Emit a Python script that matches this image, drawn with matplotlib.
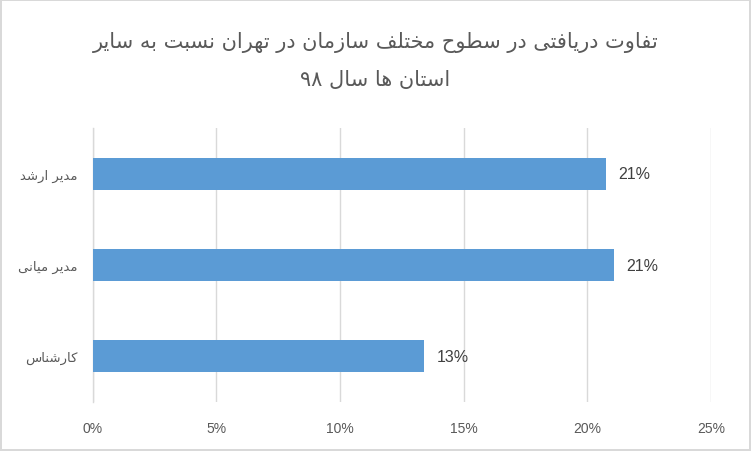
import re
import matplotlib
matplotlib.use('Agg')
import matplotlib.pyplot as plt
from matplotlib.ticker import FuncFormatter

# data
categories = ['مدیر ارشد', 'مدیر میانی', 'کارشناس']
values = [20.76, 21.09, 13.4]
value_labels = ['21%', '21%', '13%']
title_lines = ['تفاوت دریافتی در سطوح مختلف سازمان در تهران نسبت به سایر',
               'استان ها سال ۹۸']
xticks = [0, 5, 10, 15, 20, 25]

# presentation forms: (isolated, final[, initial, medial])
FORMS = {
    'ا': ('\uFE8D', '\uFE8E'),
    'د': ('\uFEA9', '\uFEAA'),
    'ر': ('\uFEAD', '\uFEAE'),
    'ز': ('\uFEAF', '\uFEB0'),
    'و': ('\uFEED', '\uFEEE'),
    'ب': ('\uFE8F', '\uFE90', '\uFE91', '\uFE92'),
    'ت': ('\uFE95', '\uFE96', '\uFE97', '\uFE98'),
    'ح': ('\uFEA1', '\uFEA2', '\uFEA3', '\uFEA4'),
    'خ': ('\uFEA5', '\uFEA6', '\uFEA7', '\uFEA8'),
    'س': ('\uFEB1', '\uFEB2', '\uFEB3', '\uFEB4'),
    'ش': ('\uFEB5', '\uFEB6', '\uFEB7', '\uFEB8'),
    'ط': ('\uFEC1', '\uFEC2', '\uFEC3', '\uFEC4'),
    'ف': ('\uFED1', '\uFED2', '\uFED3', '\uFED4'),
    'ل': ('\uFEDD', '\uFEDE', '\uFEDF', '\uFEE0'),
    'م': ('\uFEE1', '\uFEE2', '\uFEE3', '\uFEE4'),
    'ن': ('\uFEE5', '\uFEE6', '\uFEE7', '\uFEE8'),
    'ه': ('\uFEE9', '\uFEEA', '\uFEEB', '\uFEEC'),
    'ی': ('\uFBFC', '\uFBFD', '\uFBFE', '\uFBFF'),
    'ک': ('\uFB8E', '\uFB8F', '\uFB90', '\uFB91'),
}


def shape(word):
    out = []
    for i, ch in enumerate(word):
        if ch not in FORMS:
            out.append(ch)
            continue
        prev = word[i - 1] if i > 0 else ''
        nxt = word[i + 1] if i + 1 < len(word) else ''
        joins_prev = prev in FORMS and len(FORMS[prev]) == 4
        joins_next = len(FORMS[ch]) == 4 and nxt in FORMS
        f = FORMS[ch]
        if joins_prev and joins_next:
            out.append(f[3])
        elif joins_prev:
            out.append(f[1])
        elif joins_next:
            out.append(f[2])
        else:
            out.append(f[0])
    return ''.join(out)


def fa(text):
    # shape then lay out right to left, keeping digit runs in order
    words = text.split(' ')
    vis = []
    for w in reversed(words):
        if re.fullmatch(r'[0-9۰-۹]+', w):
            vis.append(w)
        else:
            vis.append(shape(w)[::-1])
    return ' '.join(vis)


text_color = '#595959'
grid_color = '#d9d9d9'
bar_color = '#5b9bd5'

fig = plt.figure(figsize=(7.51, 4.52), dpi=100, linewidth=1.5, edgecolor='#d9d9d9')
ax = fig.add_axes([0.1234, 0.1084, 0.8233, 0.6062])

ypos = list(range(len(categories)))
ax.barh(ypos, values, height=0.347, color=bar_color, zorder=3)
for y, v, lab in zip(ypos, values, value_labels):
    ax.text(v + 0.5, y, lab, va='center', ha='left', fontsize=11.5,
            color='#404040', family='Liberation Sans')

ax.set_ylim(2.5, -0.5)
ax.set_xlim(0, 25)
ax.set_yticks(ypos)
ax.set_yticklabels([fa(c) for c in categories], family='DejaVu Sans',
                   fontsize=9.5, color=text_color)
ax.set_xticks(xticks)
ax.xaxis.set_major_formatter(FuncFormatter(lambda x, p: f'{x:.0f}%'))
for lbl in ax.get_xticklabels():
    lbl.set_family('Liberation Sans')
    lbl.set_fontsize(10)
    lbl.set_color(text_color)
ax.tick_params(axis='both', length=0)
ax.tick_params(axis='y', pad=11)
ax.tick_params(axis='x', pad=14)

ax.grid(axis='x', color=grid_color, linewidth=1, zorder=0)
for s in ['top', 'right', 'bottom']:
    ax.spines[s].set_visible(False)
ax.spines['left'].set_color(grid_color)
ax.spines['left'].set_linewidth(1)

fig.text(0.5, 0.905, fa(title_lines[0]), ha='center', va='center',
         fontsize=15, color=text_color, family='DejaVu Sans')
fig.text(0.5, 0.823, fa(title_lines[1]), ha='center', va='center',
         fontsize=15, color=text_color, family='DejaVu Sans')

fig.savefig('out.png', dpi=100)
